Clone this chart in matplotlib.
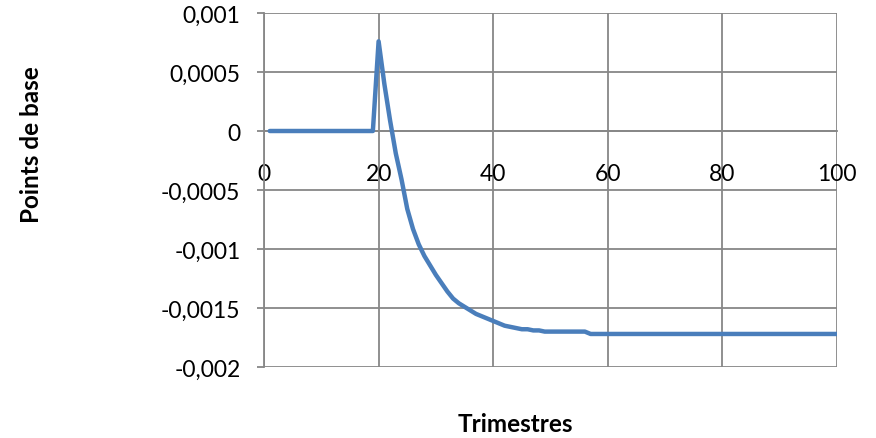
import matplotlib.pyplot as plt

# quarters 1..100 and response in basis points
trimestres = list(range(1, 101))
points = ([0.0] * 19 +
          [0.00076, 0.00040, 0.00009, -0.00019, -0.00041,
           -0.00066, -0.00083, -0.00096, -0.00106, -0.00114,
           -0.00122, -0.00129, -0.00136, -0.00142, -0.00146,
           -0.00149, -0.00152, -0.00155, -0.00157, -0.00159,
           -0.00161, -0.00163, -0.00165, -0.00166, -0.00167,
           -0.00168, -0.00168, -0.00169, -0.00169] +
          [-0.00170] * 8 +
          [-0.00172] * 44)

xticks = [0, 20, 40, 60, 80, 100]
yticks = [-0.002, -0.0015, -0.001, -0.0005, 0, 0.0005, 0.001]
ylabels = ['-0,002', '-0,0015', '-0,001', '-0,0005', '0', '0,0005', '0,001']

plt.rcParams['font.family'] = ['Lato', 'DejaVu Sans']

fig = plt.figure(figsize=(8.76, 4.39), dpi=100)
ax = fig.add_axes([264 / 876, 1 - 368 / 439, 573 / 876, 354 / 439])

grid_col = '#878787'
ax.plot(trimestres, points, color='#4A7EBB', lw=3.2, solid_capstyle='round',
        solid_joinstyle='round', zorder=3)

ax.set_xlim(0, 100)
ax.set_ylim(-0.002, 0.001)
ax.set_xticks(xticks)
ax.set_xticklabels([str(v) for v in xticks])
ax.set_yticks(yticks)
ax.set_yticklabels(ylabels)
ax.grid(True, color=grid_col, lw=1.3)

for side in ['top', 'right']:
    ax.spines[side].set_visible(False)
ax.spines['left'].set_color(grid_col)
ax.spines['left'].set_linewidth(1.3)
ax.spines['bottom'].set_position(('data', 0))
ax.spines['bottom'].set_color(grid_col)
ax.spines['bottom'].set_linewidth(1.3)

ax.tick_params(axis='x', length=0, pad=23, labelsize=16.5)
ax.tick_params(axis='y', length=5, width=1.3, color=grid_col, pad=12, labelsize=16.5)

ax.set_xlabel('Trimestres', fontsize=17.5, fontweight='bold')
ax.xaxis.label.set_va('center')
ax.xaxis.set_label_coords(0.438, -0.161)
ax.set_ylabel('Points de base', fontsize=17.5, fontweight='bold')
ax.yaxis.label.set_va('center')
ax.yaxis.set_label_coords(-0.405, 0.63)

fig.savefig('out.png', dpi=100)
